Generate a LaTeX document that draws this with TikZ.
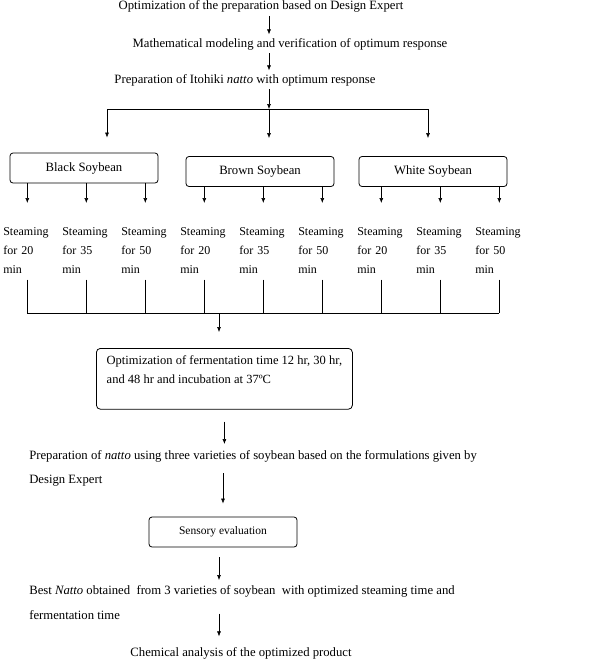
\documentclass[tikz,border=0pt]{standalone}
\usepackage{fontspec}
\setmainfont{Liberation Serif}
\usetikzlibrary{arrows.meta}

\tikzset{
  soy/.style={draw, rounded corners=3pt, line width=0.8pt, minimum width=148pt, minimum height=30pt, inner sep=2pt},
  steam/.style={anchor=north west, align=left, text width=48pt, inner sep=2pt, font=\fontsize{12}{19}\selectfont},
  plain/.style={anchor=north west, align=left, inner sep=2pt},
}

\begin{document}
\begin{tikzpicture}[x=1pt, y=-1pt, line width=0.6pt, >={Latex[length=5pt,width=4pt]},
  every node/.style={font=\fontsize{12.7}{19}\selectfont}]
\useasboundingbox (0,0) rectangle (592,659);
\node[anchor=base] (opt) at (261,9.5) {Optimization of the preparation based on Design Expert};
\node[anchor=base] (model) at (290,47) {Mathematical modeling and verification of optimum response};
\node[anchor=base] (itohiki) at (245,83) {Preparation of Itohiki \textit{natto} with optimum response};
\coordinate (fork) at (269,109);
\draw[->] (opt.south -| fork) -- (model.north -| fork);
\draw[->] (model.south -| fork) -- (itohiki.north -| fork);
\draw[->] (itohiki.south -| fork) -- (fork);

\node[soy] (black) at (84,168) {Black Soybean};
\node[soy] (brown) at (260,171.5) {Brown Soybean};
\node[soy] (white) at (433,171.5) {White Soybean};
\draw[->, shorten >=15pt] (fork) -| ([xshift=23pt]black.north);
\draw[->, shorten >=18pt] (fork) -- (fork |- brown.north);
\draw[->, shorten >=18pt] (fork) -| ([xshift=-5pt]white.north);

% steaming times under each soybean
\foreach \i/\m/\b in {1/20/black,2/35/black,3/50/black,4/20/brown,5/35/brown,6/50/brown,7/20/white,8/35/white,9/50/white}{
  \node[steam] (st\i) at ({1+59*(\i-1)},225) {Steaming\\for \m\\min};
  \draw[->, shorten >=22pt] (st\i.north |- \b.south) -- (st\i.north);
}
\coordinate (bus) at (219,313);
\foreach \i in {1,...,9}
  \draw[shorten <=4pt] (st\i.south) -- (st\i.south |- bus);
\draw (st1.south |- bus) -- (st9.south |- bus);

\node[draw, rounded corners=4pt, line width=0.8pt, anchor=north west, align=left, minimum width=256pt, inner xsep=6pt, inner ysep=7pt, font=\fontsize{12.5}{19}\selectfont] (ferm) at (96,348)
  {Optimization of fermentation time 12 hr, 30 hr,\\and 48 hr and incubation at 37ºC\\\mbox{}};
\draw[->, shorten >=16pt] (bus) -- (bus |- ferm.north);

\node[plain, font=\fontsize{12.7}{24}\selectfont] (prep) at (27,448)
  {Preparation of \textit{natto} using three varieties of soybean based on the formulations given by\\Design Expert};
\draw[->, shorten <=12pt, shorten >=4pt] (ferm.south) -- (ferm.south |- prep.north);

\node[soy, font=\fontsize{11.5}{14}\selectfont] (sens) at (223,532) {Sensory evaluation};
\draw[->, shorten <=-15pt, shorten >=13pt] (prep.south -| sens.north) -- (sens.north);

\node[plain, font=\fontsize{12.7}{25}\selectfont] (best) at (27,583)
  {Best \textit{Natto} obtained\ \ from 3 varieties of soybean\ \ with optimized steaming time and\\fermentation time};
\draw[->, shorten <=10pt, shorten >=3pt] (sens.south -| bus) -- (best.north -| bus);

\node[anchor=base] (chem) at (241,656) {Chemical analysis of the optimized product};
\draw[->, shorten <=-8pt, shorten >=7pt] (best.south -| bus) -- (chem.north -| bus);
\end{tikzpicture}
\end{document}
